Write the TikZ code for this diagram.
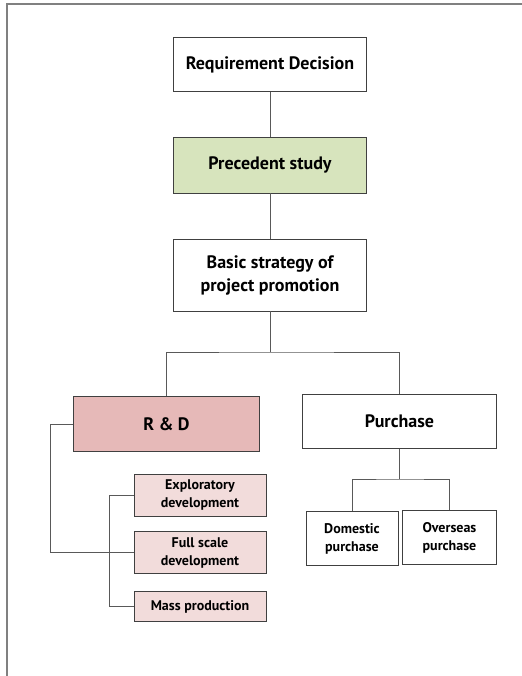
\documentclass[tikz,border=0pt]{standalone}
\usepackage{fontspec}
\setmainfont{PT Sans}
\usepackage{tikz}
\usetikzlibrary{positioning}
\usepackage{xcolor}
\definecolor{boxline}{HTML}{404040}
\definecolor{linkline}{HTML}{595959}
\definecolor{studygreen}{HTML}{D7E4BD}
\definecolor{rdred}{HTML}{E6B9B8}
\definecolor{rdlight}{HTML}{F2DCDB}

\begin{document}
\begin{tikzpicture}[x=0.75pt,y=-0.75pt,
	bigbox/.style={draw=boxline,line width=0.6pt,align=center,inner sep=0pt,font=\bfseries\fontsize{13.5}{17.3}\selectfont},
	smallbox/.style={draw=boxline,line width=0.6pt,align=center,inner sep=0pt,fill=rdlight,font=\bfseries\fontsize{10.5}{13.5}\selectfont,minimum width=99pt},
	link/.style={draw=linkline,line width=0.6pt}]
	\useasboundingbox (0,0) rectangle (522,676);
	\draw[draw=gray,line width=0.8pt] (7,676) -- (7,4) -- (522,4);
	% main chain
	\begin{scope}[every node/.style={bigbox,minimum width=145pt}]
		\node[minimum height=41pt] (req) at (270,64.5) {Requirement Decision};
		\node[minimum height=42pt,fill=studygreen] (prec) at (270,165) {Precedent study};
		\node[minimum height=54pt] (basic) at (270,275) {Basic strategy of\\project promotion};
		\node[minimum height=41pt,minimum width=139pt,fill=rdred] (rd) at (166.5,424) {R \& D};
		\node[minimum height=41pt] (pur) at (399.5,421.5) {Purchase};
	\end{scope}
	% sub boxes
	\begin{scope}[every node/.style={smallbox}]
		\node[minimum height=31.5pt] (expl) at (200,495) {Exploratory\\development};
		\node[minimum height=31pt] (full) at (200,552.5) {Full scale\\development};
		\node[minimum height=23pt] (mass) at (200,606.5) {Mass production};
		\node[minimum height=41pt,minimum width=69pt,fill=none] (dom) at (352,538.5) {Domestic\\purchase};
		\node[minimum height=41pt,minimum width=70pt,fill=none] (ovs) at (449.5,537.5) {Overseas\\purchase};
	\end{scope}
	\coordinate (split) at (270,352);
	\coordinate (rdleft) at (50,424);
	\coordinate (devleft) at (109,495);
	\coordinate (pursplit) at (399.5,479);
	\begin{scope}[every path/.style={link}]
		\draw (req) -- (prec);
		\draw (prec) -- (basic);
		\draw (basic) -- (split);
		\draw (rd.north) |- (split) -| (pur.north);
		\draw (rd.west) -- (rdleft) |- (full.west);
		\draw (expl.west) -- (devleft) |- (mass.west);
		\draw (pur.south) -- (pursplit);
		\draw (dom.north) |- (pursplit) -| (ovs.north);
	\end{scope}
\end{tikzpicture}
\end{document}
